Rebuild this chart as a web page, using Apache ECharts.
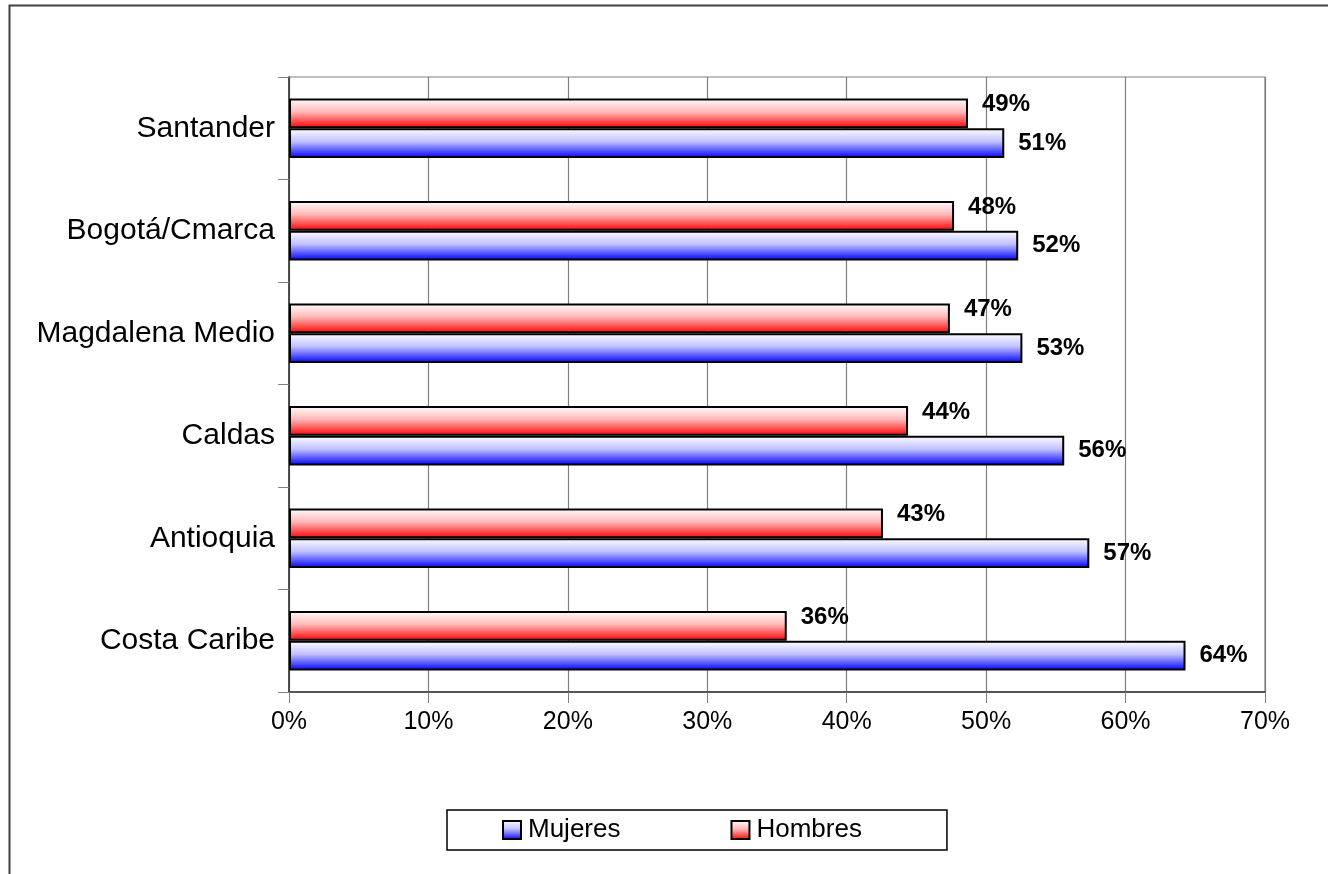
<!DOCTYPE html>
<html>
<head>
<meta charset="utf-8">
<script src="https://cdn.jsdelivr.net/npm/echarts@6/dist/echarts.min.js"></script>
<style>
html,body{margin:0;padding:0;background:#fff;}
#chart{width:1328px;height:874px;}
</style>
</head>
<body>
<div id="chart"></div>
<script>
// Categories listed bottom-to-top (ECharts category y axis starts at the bottom)
const categories = ['Costa Caribe', 'Antioquia', 'Caldas', 'Magdalena Medio', 'Bogotá/Cmarca', 'Santander'];
const mujeres = [64.3, 57.4, 55.6, 52.6, 52.3, 51.3];
const hombres = [35.7, 42.6, 44.4, 47.4, 47.7, 48.7];
const xTicks = [0, 10, 20, 30, 40, 50, 60, 70];

const chart = echarts.init(document.getElementById('chart'));
const FONT = 'Liberation Sans, Arial, sans-serif';

function grad(c) {
  return new echarts.graphic.LinearGradient(0, 0, 0, 1, [
    {offset: 0, color: '#ffffff'},
    {offset: 0.45, color: c.mid},
    {offset: 1, color: c.end}
  ]);
}
const blueFill = grad({mid: '#c0c0ff', end: '#0000ff'});
const redFill = grad({mid: '#ffb8b8', end: '#ff0000'});

chart.setOption({
  animation: false,
  backgroundColor: '#ffffff',
  textStyle: {fontFamily: FONT},
  graphic: [{
    type: 'rect',
    shape: {x: 9.5, y: 5.5, width: 1500, height: 1000},
    style: {fill: 'none', stroke: '#404040', lineWidth: 2},
    silent: true,
    z: -10
  }],
  grid: {left: 289, right: 63, top: 77, bottom: 182, containLabel: false,
         show: true, borderColor: '#808080', borderWidth: 1.2, backgroundColor: 'transparent'},
  legend: {
    data: ['Mujeres', 'Hombres'],
    left: 447,
    top: 810,
    padding: [7, 85, 7, 55],
    itemGap: 110,
    itemWidth: 18,
    itemHeight: 18,
    icon: 'rect',
    borderColor: '#000',
    borderWidth: 1.5,
    textStyle: {fontSize: 26, color: '#000', fontFamily: FONT, padding: [0, 0, 0, 2]}
  },
  xAxis: {
    type: 'value',
    min: xTicks[0],
    max: xTicks[xTicks.length - 1],
    interval: 10,
    axisLine: {show: true, lineStyle: {color: '#333', width: 1.5}},
    axisTick: {show: true, length: 11, lineStyle: {color: '#808080'}},
    axisLabel: {formatter: '{value}%', fontSize: 25, color: '#000', margin: 18, fontFamily: FONT},
    splitLine: {show: true, lineStyle: {color: '#808080', width: 1.2}}
  },
  yAxis: {
    type: 'category',
    data: categories,
    axisLine: {show: true, lineStyle: {color: '#333', width: 1.5}},
    axisTick: {show: true, length: 11, lineStyle: {color: '#808080'}},
    axisLabel: {fontSize: 30, color: '#000', margin: 14, fontFamily: FONT},
    splitLine: {show: false}
  },
  series: [
    {
      name: 'Hombres',
      type: 'bar',
      data: hombres,
      barGap: '0%',
      barCategoryGap: '42%',
      itemStyle: {color: redFill, borderColor: '#000', borderWidth: 2},
      label: {
        show: true, position: 'right', distance: 14, offset: [0, -9],
        formatter: p => Math.round(p.value) + '%',
        fontSize: 24, fontWeight: 'bold', color: '#000', fontFamily: FONT
      }
    },
    {
      name: 'Mujeres',
      type: 'bar',
      data: mujeres,
      barGap: '0%',
      barCategoryGap: '42%',
      itemStyle: {color: blueFill, borderColor: '#000', borderWidth: 2},
      label: {
        show: true, position: 'right', distance: 14, offset: [0, 0],
        formatter: p => Math.round(p.value) + '%',
        fontSize: 24, fontWeight: 'bold', color: '#000', fontFamily: FONT
      }
    }
  ]
});
</script>
</body>
</html>
